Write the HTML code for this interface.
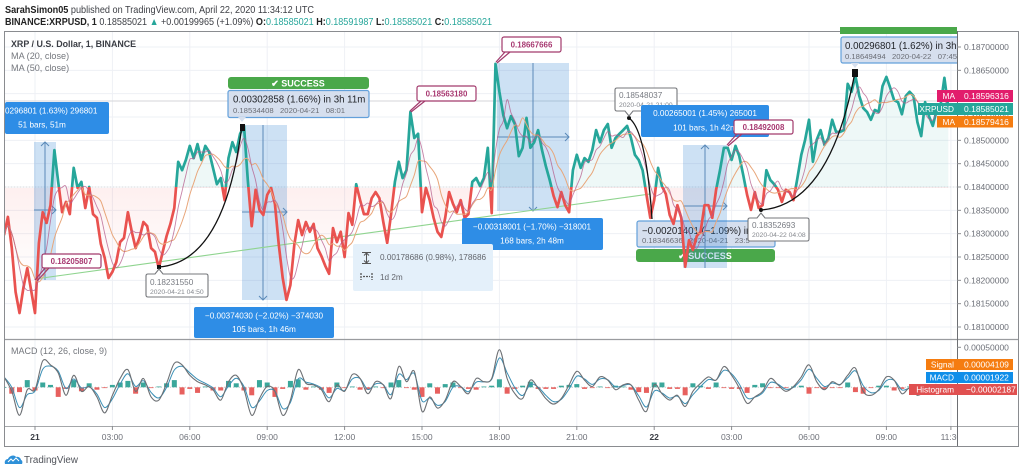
<!DOCTYPE html>
<html lang="en">
<head>
<meta charset="utf-8">
<title>XRP / U.S. Dollar chart</title>
<style>
html,body{margin:0;padding:0;background:#fff;width:1023px;height:473px;overflow:hidden}
svg{display:block;font-family:"Liberation Sans",sans-serif}
.tick{font-size:8.5px;fill:#6d7078}
.lbl{font-size:8.2px;fill:#fff;text-anchor:middle}
.ok{font-size:9px;font-weight:bold;fill:#fff;text-anchor:middle}
.sub{font-size:7.7px;fill:#6a6d75}
.main{font-size:9.7px;fill:#1f2126}
.pink{font-size:7.9px;font-weight:bold;fill:#a83a72;text-anchor:middle}
.tip1{font-size:8.2px;fill:#787b82}
.tip2{font-size:6.8px;fill:#85888e}
.tag{font-size:8.5px;fill:#fff}
.tagname{font-size:8.3px;fill:#fff;text-anchor:end}
</style>
</head>
<body>
<svg id="chart" width="1023" height="473" viewBox="0 0 1023 473">
  <defs>
    <clipPath id="plotClip"><rect x="5" y="32" width="952" height="307"/></clipPath>
    <clipPath id="aboveBase"><rect x="5" y="32" width="952" height="155"/></clipPath>
    <clipPath id="belowBase"><rect x="5" y="187" width="952" height="152"/></clipPath>
    <clipPath id="macdClip"><rect x="5" y="340" width="952" height="86"/></clipPath>
    <clipPath id="axisClip"><rect x="5" y="427" width="952" height="19"/></clipPath>
    <clipPath id="paneTopClip"><rect x="5" y="20" width="952" height="319"/></clipPath>
    <linearGradient id="redFade" x1="0" y1="187" x2="0" y2="262" gradientUnits="userSpaceOnUse">
      <stop offset="0" stop-color="#ef5350" stop-opacity=".09"/>
      <stop offset="1" stop-color="#ef5350" stop-opacity=".02"/>
    </linearGradient>
  </defs>

  <text x="5" y="13" font-size="10.4" fill="#3c3e44" textLength="309" lengthAdjust="spacingAndGlyphs"><tspan font-weight="bold" fill="#222">SarahSimon05</tspan> published on TradingView.com, April 22, 2020 11:34:12 UTC</text>
  <text x="5" y="25" font-size="10.2" fill="#3c3e44" textLength="487" lengthAdjust="spacingAndGlyphs"><tspan font-weight="bold" fill="#222">BINANCE:XRPUSD, 1</tspan> 0.18585021 <tspan fill="#26a69a">▲</tspan> +0.00199965 (+1.09%) <tspan font-weight="bold" fill="#222">O:</tspan><tspan fill="#26a69a">0.18585021</tspan> <tspan font-weight="bold" fill="#222">H:</tspan><tspan fill="#26a69a">0.18591987</tspan> <tspan font-weight="bold" fill="#222">L:</tspan><tspan fill="#26a69a">0.18585021</tspan> <tspan font-weight="bold" fill="#222">C:</tspan><tspan fill="#26a69a">0.18585021</tspan></text>

  <g id="gridLayer"></g>
  <line x1="5" x2="957" y1="101" y2="101" stroke="#d4d6da" stroke-width="1"/>
  <line x1="5" x2="957" y1="187" y2="187" stroke="#d9dbde" stroke-width="1" stroke-dasharray="1 2"/>

  <g id="fillLayer"></g>

  <rect x="4.5" y="31.5" width="1014" height="415" fill="none" stroke="#8a8c90" stroke-width="1"/>
  <line x1="5" x2="1018" y1="339.5" y2="339.5" stroke="#9a9c9f" stroke-width="1.2"/>
  <line x1="5" x2="1018" y1="426.5" y2="426.5" stroke="#a6a8ab" stroke-width="1"/>
  <line x1="957.5" x2="957.5" y1="31" y2="446" stroke="#6d6f73" stroke-width="1"/>

  <g id="signalBoxB">
    <rect x="637" y="221" width="138" height="26" rx="2" fill="#d6dfee" stroke="#63a0da" stroke-width="1.2"/>
    <text x="642" y="234" class="main">−0.00201401 (−1.09%) in</text>
    <text x="642" y="243" class="sub">0.18346636 &#160; 2020-04-21 &#160; 23:5</text>
    <rect x="636" y="249" width="139" height="13" rx="3" fill="#4aa84a"/>
    <text x="705" y="259" class="ok">✔ SUCCESS</text>
  </g>

  <g>
    <rect x="34" y="142" width="22" height="138" fill="#2f80d0" fill-opacity=".24"/>
    <rect x="242" y="125" width="45" height="175" fill="#2f80d0" fill-opacity=".24"/>
    <rect x="497" y="63" width="72" height="148" fill="#2f80d0" fill-opacity=".24"/>
    <rect x="683" y="145" width="44" height="123" fill="#2f80d0" fill-opacity=".24"/>
  </g>
  <g fill="none" stroke="#5a89b8" stroke-width="1">
    <path d="M45 280V142M41 146l4-4 4 4M34 210H56M52 206l4 4-4 4"/>
    <path d="M263 125V300M259 296l4 4 4-4M242 212H287M283 208l4 4-4 4"/>
    <path d="M533 63V211M529 207l4 4 4-4M497 137H569M565 133l4 4-4 4"/>
    <path d="M705 268V145M701 149l4-4 4 4M683 206H727M723 202l4 4-4 4"/>
  </g>

  <line x1="35" y1="279" x2="650" y2="194" stroke="#8fd48f" stroke-width="1.1"/>

  <g id="priceLayer"></g>
  <g id="macdLayer"></g>
  <g id="axisLayer"></g>

  <g fill="none" stroke="#111" stroke-width="1.3">
    <path d="M159 267Q225 262 242 125"/>
    <path d="M629 118Q646 130 652 219"/>
    <path d="M761 210Q830 205 855 72"/>
  </g>
  <g fill="#111">
    <rect x="157" y="265" width="4" height="4"/>
    <rect x="240" y="124" width="5" height="7"/>
    <circle cx="629" cy="118" r="2"/>
    <circle cx="761" cy="210" r="2"/>
    <rect x="852" y="69" width="6" height="8"/>
  </g>

  <g>
    <text x="11" y="47" font-size="8.9" font-weight="bold" fill="#3a3d44">XRP / U.S. Dollar, 1, BINANCE</text>
    <text x="11" y="59" font-size="9.1" fill="#74777d">MA (20, close)</text>
    <text x="11" y="71" font-size="9.1" fill="#74777d">MA (50, close)</text>
    <text x="11" y="354" font-size="9" fill="#74777d">MACD (12, 26, close, 9)</text>
  </g>

  <g>
    <rect x="228" y="77" width="141" height="12" rx="3" fill="#4aa84a"/>
    <text x="298" y="86.5" class="ok">✔ SUCCESS</text>
    <rect x="228" y="90.5" width="141" height="27" rx="2" fill="#d6dfee" stroke="#63a0da" stroke-width="1.2"/>
    <path d="M238 117l4 5 4-5z" fill="#d6dfee"/>
    <text x="233" y="102.5" class="main">0.00302858 (1.66%) in 3h 11m</text>
    <text x="233" y="113" class="sub">0.18534408 &#160; 2020-04-21 &#160; 08:01</text>
  </g>

  <g clip-path="url(#paneTopClip)">
    <rect x="840" y="27" width="118" height="7" fill="#4aa84a"/>
    <rect x="841" y="37" width="125" height="26" rx="2" fill="#d6dfee" stroke="#63a0da" stroke-width="1.2"/>
    <path d="M851 63l4 5 4-5z" fill="#d6dfee"/>
    <text x="845" y="49" class="main">0.00296801 (1.62%) in 3h 11m</text>
    <text x="845" y="59" class="sub">0.18649494 &#160; 2020-04-22 &#160; 07:45</text>
  </g>

  <g>
    <g>
      <path d="M148 274H155L159 269 163 274H206Q208 274 208 276V295Q208 297 206 297H148Q146 297 146 295V276Q146 274 148 274Z" fill="#fff" stroke="#75777b" stroke-width="1.1"/>
      <text x="150" y="285" class="tip1">0.18231550</text>
      <text x="150" y="294" class="tip2">2020-04-21 04:50</text>
    </g>
    <g>
      <path d="M617 88H675Q677 88 677 90V109Q677 111 675 111H633L629 116 625 111H617Q615 111 615 109V90Q615 88 617 88Z" fill="#fff" stroke="#75777b" stroke-width="1.1"/>
      <text x="619" y="98" class="tip1">0.18548037</text>
      <text x="619" y="107" class="tip2">2020-04-21 21:00</text>
    </g>
    <g>
      <path d="M750 218H757L761 213 765 218H807Q809 218 809 220V239Q809 241 807 241H750Q748 241 748 239V220Q748 218 750 218Z" fill="#fff" stroke="#75777b" stroke-width="1.1"/>
      <text x="752" y="228" class="tip1">0.18352693</text>
      <text x="752" y="237" class="tip2">2020-04-22 04:08</text>
    </g>
  </g>

  <g>
    <g>
      <rect x="5" y="102" width="104" height="32" rx="2" fill="#2e8de6"/>
      <text x="5" y="113.500" style="font-size:8.2px" fill="#fff">0296801 (1.63%) 296801</text>
      <text x="42" y="127.500" class="lbl">51 bars, 51m</text>
    </g>
    <g>
      <rect x="194" y="307" width="140" height="31" rx="2" fill="#2e8de6"/>
      <text x="264" y="318.500" class="lbl">−0.00374030 (−2.02%) −374030</text>
      <text x="264" y="332" class="lbl">105 bars, 1h 46m</text>
    </g>
    <g>
      <rect x="462" y="218" width="141" height="32" rx="2" fill="#2e8de6"/>
      <text x="532" y="229.500" class="lbl">−0.00318001 (−1.70%) −318001</text>
      <text x="532" y="243.500" class="lbl">168 bars, 2h 48m</text>
    </g>
    <g>
      <rect x="641" y="105" width="128" height="32" rx="2" fill="#2e8de6"/>
      <text x="705" y="116" class="lbl">0.00265001 (1.45%) 265001</text>
      <text x="705" y="130.500" class="lbl">101 bars, 1h 42m</text>
    </g>
  </g>

  <g>
    <rect x="353" y="244" width="140" height="47" rx="2" fill="#e4f0fa"/>
    <path d="M362 252.5h9M366.500 253v10M362 263.500h9M364 255.500l2.500-2.500 2.500 2.500M364 260.500l2.500 2.500 2.500-2.500" fill="none" stroke="#555" stroke-width="1"/>
    <path d="M361 273v7M372 273v7M363 276.500h7" fill="none" stroke="#555" stroke-width="1.300" stroke-dasharray="2 1"/>
    <text x="380" y="260" font-size="8.2" fill="#62656c">0.00178686 (0.98%), 178686</text>
    <text x="380" y="280" font-size="8.2" fill="#62656c">1d 2m</text>
  </g>

  <g>
    <g>
      <path d="M35 280L46 267M37 281L49 268" stroke="#a23a6c" stroke-width="1.200"/>
      <rect x="42" y="254" width="59" height="14" rx="2" fill="#fff" stroke="#a23a6c" stroke-width="1.200"/>
      <text x="71.500" y="264" class="pink">0.18205807</text>
    </g>
    <g>
      <path d="M410 111L421 101M411 112L425 101" stroke="#a23a6c" stroke-width="1.200"/>
      <rect x="417" y="86" width="59" height="15" rx="2" fill="#fff" stroke="#a23a6c" stroke-width="1.200"/>
      <text x="446.500" y="96.500" class="pink">0.18563180</text>
    </g>
    <g>
      <path d="M496 62L505 52M497 63L510 52" stroke="#a23a6c" stroke-width="1.200"/>
      <rect x="502" y="37" width="59" height="15" rx="2" fill="#fff" stroke="#a23a6c" stroke-width="1.200"/>
      <text x="531.500" y="47.500" class="pink">0.18667666</text>
    </g>
    <g>
      <path d="M727 145L737 134M728 146L742 134" stroke="#a23a6c" stroke-width="1.200"/>
      <rect x="734" y="120" width="59" height="14" rx="2" fill="#fff" stroke="#a23a6c" stroke-width="1.200"/>
      <text x="763.500" y="130" class="pink">0.18492008</text>
    </g>
  </g>

  <g>
    <g>
      <rect x="937" y="90" width="76" height="12" fill="#e21d6c"/>
      <text x="955" y="99" class="tagname">MA</text>
      <text x="964" y="99" class="tag">0.18596316</text>
    </g>
    <g>
      <rect x="918" y="103" width="95" height="12" fill="#26a69a"/>
      <text x="954" y="112" class="tagname">XRPUSD</text>
      <text x="964" y="112" class="tag">0.18585021</text>
    </g>
    <g>
      <rect x="937" y="116" width="76" height="11.500" fill="#f57c10"/>
      <text x="955" y="125" class="tagname">MA</text>
      <text x="964" y="125" class="tag">0.18579416</text>
    </g>
    <g>
      <rect x="926" y="359" width="87" height="11" fill="#f57c10"/>
      <text x="954" y="367.500" class="tagname">Signal</text>
      <text x="964" y="367.500" class="tag">0.00004109</text>
    </g>
    <g>
      <rect x="926" y="372" width="87" height="11" fill="#0f8ee9"/>
      <text x="954" y="380.500" class="tagname">MACD</text>
      <text x="964" y="380.500" class="tag">0.00001922</text>
    </g>
    <g>
      <rect x="909" y="384" width="108" height="11" fill="#e05050"/>
      <text x="954" y="392.500" class="tagname">Histogram</text>
      <text x="966" y="392.500" class="tag">−0.00002187</text>
    </g>
  </g>

  <g>
    <path d="M5 464c-1-3 1-5 3-5 1-3 6-5 8-2 2-1 5 1 5 3 1 0 2 2 1 4z" fill="#2e90d8"/>
    <path d="M8 462l3-3 2 2 3-3 3 3" fill="none" stroke="#fff" stroke-width="1"/>
    <text x="24" y="463" font-size="9.800" fill="#50535a">TradingView</text>
  </g>
</svg>

<script>
// Prices and MACD values are in units of 0.00001. Each close is a 9-minute sample starting 72 minutes before 00:00 on the 21st.
const firstBarMinute = -72;
const barMinutes = 9;
const closePrices = [
18297,18336,18269,18175,18130,18184,18226,18179,18130,18280,18346,18323,18361,18479,18411,18346,18368,18342,18441,18398,
18411,18355,18400,18342,18334,18278,18248,18205,18218,18239,18282,18291,18346,18304,18269,18291,18325,18316,18269,18261,
18226,18261,18295,18321,18355,18454,18436,18458,18488,18462,18492,18458,18488,18475,18441,18406,18419,18372,18462,18496,
18475,18514,18531,18415,18316,18394,18351,18340,18383,18398,18364,18276,18205,18158,18190,18276,18329,18297,18325,18304,
18321,18269,18252,18231,18214,18312,18282,18304,18250,18344,18319,18406,18372,18342,18342,18376,18389,18376,18325,18280,
18340,18411,18454,18419,18436,18561,18505,18514,18346,18398,18372,18334,18304,18293,18334,18389,18364,18346,18372,18334,
18342,18411,18419,18402,18419,18484,18344,18664,18604,18554,18526,18552,18535,18466,18484,18548,18484,18496,18522,18479,
18445,18415,18381,18357,18389,18361,18346,18436,18469,18441,18462,18454,18479,18522,18496,18522,18535,18484,18505,18514,
18522,18531,18505,18469,18458,18436,18383,18334,18372,18441,18402,18385,18340,18321,18361,18334,18229,18286,18265,18295,
18304,18361,18361,18334,18394,18436,18484,18484,18458,18488,18466,18426,18383,18351,18389,18355,18361,18436,18415,18406,
18394,18368,18394,18389,18372,18419,18469,18501,18544,18454,18501,18522,18490,18505,18544,18518,18518,18522,18621,18604,
18638,18595,18569,18561,18544,18565,18561,18616,18636,18612,18586,18582,18556,18595,18604,18595,18539,18509,18582,18552,
18531,18565,18576,18634,18569
];
const baselinePrice = 18398;
const ma20Window = 4;
const ma50Window = 8;

const macdStepMinutes = 18;
const macdValues = [
13,-5,-35,-3,-3,33,28,18,-10,15,-5,1,-12,-32,-10,11,22,-5,11,-12,-16,5,30,28,15,7,3,-3,-16,7,15,-3,-35,-14,1,-5,-35,-16,22,5,3,-3,-18,3,
-5,16,11,-8,7,3,-14,26,7,20,-30,-12,-26,-16,7,1,-8,11,7,11,47,11,-8,-14,9,-1,-14,-21,-14,3,20,9,1,13,9,-3,3,3,-16,-30,3,-8,-16,-10,
-24,-5,5,13,9,26,15,-1,-20,-12,-5,11,3,-5,1,13,28,7,-3,7,3,15,24,-5,-10,-3,13,9,-8,-1,-10,-5,3,3,1
];
const histogramValues = [
0,-8,-6,9,-4,6,3,-12,-2,9,-5,5,-3,-1,3,6,8,-8,6,-1,1,5,9,-9,-2,-7,1,-4,-4,8,5,-4,-10,9,6,-12,-2,8,10,-3,1,-3,-7,6,
-1,1,-3,-3,1,-1,6,9,-1,-3,-12,5,-8,4,6,-1,-2,-3,1,2,10,-8,-2,2,7,-2,-2,-2,2,3,4,-2,-1,1,-1,2,1,-3,-6,-7,6,6,-2,-2,
-10,5,2,-2,6,-1,-2,-2,-7,3,5,-1,-1,-1,1,2,-8,-1,-2,-1,-1,6,-6,-8,-1,2,2,-4,-2,1,1,-1,1,-1,-2
];

const priceTickLabels = ["0.18700000","0.18650000","0.18600000","0.18550000","0.18500000","0.18450000","0.18400000","0.18350000","0.18300000","0.18250000","0.18200000","0.18150000","0.18100000"];
const macdTickLabels = ["0.00050000"];
const timeTickMinutes = [0,180,360,540,720,900,1080,1260,1440,1620,1800,1980,2130];
const timeTickLabels = ["21","03:00","06:00","09:00","12:00","15:00","18:00","21:00","22","03:00","06:00","09:00","11:30"];
const boldTimeLabels = ["21","22"];

const NS = "http://www.w3.org/2000/svg";
function xScale(minute){ return 35 + minute * 0.43; }
function yPrice(p){ return 47 + (18700 - p) * 0.46667; }
function yMacd(v){ return 387.3 - v * 0.8; }
function barX(i){ return xScale(firstBarMinute + i * barMinutes); }
function macdX(i){ return xScale(firstBarMinute + i * macdStepMinutes); }

function make(tag, attrs, parent){
  const el = document.createElementNS(NS, tag);
  for (const k in attrs) el.setAttribute(k, attrs[k]);
  parent.appendChild(el);
  return el;
}
function linePath(values, xf, yf){
  return values.map((v,i) => (i ? "L" : "M") + xf(i).toFixed(1) + " " + yf(v).toFixed(1)).join("");
}
function smoothPath(values, xf, yf){
  const pts = values.map((v,i) => [xf(i), yf(v)]);
  let d = "M" + pts[0][0].toFixed(1) + " " + pts[0][1].toFixed(1);
  for (let i = 0; i < pts.length - 1; i++) {
    const p0 = pts[Math.max(0, i - 1)], p1 = pts[i], p2 = pts[i + 1], p3 = pts[Math.min(pts.length - 1, i + 2)];
    d += "C" + (p1[0] + (p2[0] - p0[0]) / 6).toFixed(1) + " " + (p1[1] + (p2[1] - p0[1]) / 6).toFixed(1) + " " +
         (p2[0] - (p3[0] - p1[0]) / 6).toFixed(1) + " " + (p2[1] - (p3[1] - p1[1]) / 6).toFixed(1) + " " +
         p2[0].toFixed(1) + " " + p2[1].toFixed(1);
  }
  return d;
}
function movingAverage(values, windowSize){
  return values.map((v,i) => {
    const start = Math.max(0, i - windowSize + 1);
    const slice = values.slice(start, i + 1);
    return slice.reduce((a,b) => a + b, 0) / slice.length;
  });
}
function ema(values, alpha){
  let prev = values[0];
  return values.map(v => (prev = alpha * v + (1 - alpha) * prev));
}

const grid = document.getElementById("gridLayer");
const fillLayer = document.getElementById("fillLayer");
const priceLayer = document.getElementById("priceLayer");
const macdLayer = document.getElementById("macdLayer");
const axisLayer = document.getElementById("axisLayer");

priceTickLabels.forEach(label => {
  const y = yPrice(parseFloat(label) * 1e5);
  const gl = make("line", {x1:5, x2:957, y1:y, y2:y, stroke:"#eef0f5", "stroke-width":1}, grid);
  
  
  const tk = make("line", {x1:957, x2:961, y1:y, y2:y, stroke:"#8a8c90", "stroke-width":1}, axisLayer);
  
  
  const tx = make("text", {x:964, y:y + 3, class:"tick"}, axisLayer);
  tx.textContent = label;
  
  
});

macdTickLabels.forEach(label => {
  const y = yMacd(parseFloat(label) * 1e5);
  const tk = make("line", {x1:957, x2:961, y1:y, y2:y, stroke:"#8a8c90", "stroke-width":1}, axisLayer);
  
  
  const tx = make("text", {x:964, y:y + 3, class:"tick"}, axisLayer);
  tx.textContent = label;
  
  
});

timeTickMinutes.forEach((minute, i) => {
  const x = xScale(minute);
  const gl = make("line", {x1:x, x2:x, y1:32, y2:426, stroke:"#eef0f5", "stroke-width":1}, grid);
  
  
  const tk = make("line", {x1:x, x2:x, y1:426, y2:430, stroke:"#8a8c90", "stroke-width":1}, axisLayer);
  
  
  const isBold = boldTimeLabels.includes(timeTickLabels[i]);
  const tx = make("text", {x:x, y:440, class:"tick", "text-anchor":"middle", "clip-path":"url(#axisClip)"}, axisLayer);
  if (isBold) { tx.setAttribute("font-weight", "bold"); tx.style.fill = "#3a3d44"; }
  tx.textContent = timeTickLabels[i];
  
  
});

const baseY = yPrice(baselinePrice);
const linePathD = linePath(closePrices, barX, yPrice);
const areaD = linePathD + "L" + barX(closePrices.length - 1).toFixed(1) + " " + baseY.toFixed(1) + "L" + barX(0).toFixed(1) + " " + baseY.toFixed(1) + "Z";

const tealArea = make("path", {d:areaD, fill:"#26a69a", "fill-opacity":".08", "clip-path":"url(#aboveBase)"}, fillLayer);


const redArea = make("path", {d:areaD, fill:"url(#redFade)", "clip-path":"url(#belowBase)"}, fillLayer);



const ma50 = movingAverage(closePrices, ma50Window);
const ma20 = movingAverage(closePrices, ma20Window);

const tealLine = make("path", {d:linePathD, fill:"none", stroke:"#26a69a", "stroke-width":2.7, "stroke-linejoin":"round", "clip-path":"url(#aboveBase)"}, priceLayer);


const redLine = make("path", {d:linePathD, fill:"none", stroke:"#e9524f", "stroke-width":2.7, "stroke-linejoin":"round", "clip-path":"url(#belowBase)"}, priceLayer);



const ma50Line = make("path", {d:smoothPath(ma50, barX, yPrice), fill:"none", stroke:"#e8a67a", "stroke-width":1, "clip-path":"url(#plotClip)"}, priceLayer);


const ma20Line = make("path", {d:smoothPath(ma20, barX, yPrice), fill:"none", stroke:"#b45a8a", "stroke-opacity":".75", "stroke-width":0.9, "clip-path":"url(#plotClip)"}, priceLayer);



const zeroLine = make("line", {x1:5, x2:957, y1:yMacd(0), y2:yMacd(0), stroke:"#c8cacd", "stroke-width":1, "stroke-dasharray":"1 2"}, macdLayer);



histogramValues.forEach((v,i) => {
  const y0 = yMacd(0), y1 = yMacd(v);
  const bar = make("rect", {
    x: macdX(i) - 2.5,
    y: Math.min(y0, y1),
    width: 5,
    height: Math.max(0.6, Math.abs(y1 - y0)),
    fill: v >= 0 ? "#3aa79b" : "#e7605e",
    "clip-path": "url(#macdClip)"
  }, macdLayer);
  
  
});

const signalValues = ema(macdValues, 0.72);
const signalLine = make("path", {d:smoothPath(signalValues, macdX, yMacd), fill:"none", stroke:"#3a8fb5", "stroke-width":1, "clip-path":"url(#macdClip)"}, macdLayer);


const macdLine = make("path", {d:smoothPath(macdValues, macdX, yMacd), fill:"none", stroke:"#6d7074", "stroke-width":1.1, "clip-path":"url(#macdClip)"}, macdLayer);


</script>
</body>
</html>
